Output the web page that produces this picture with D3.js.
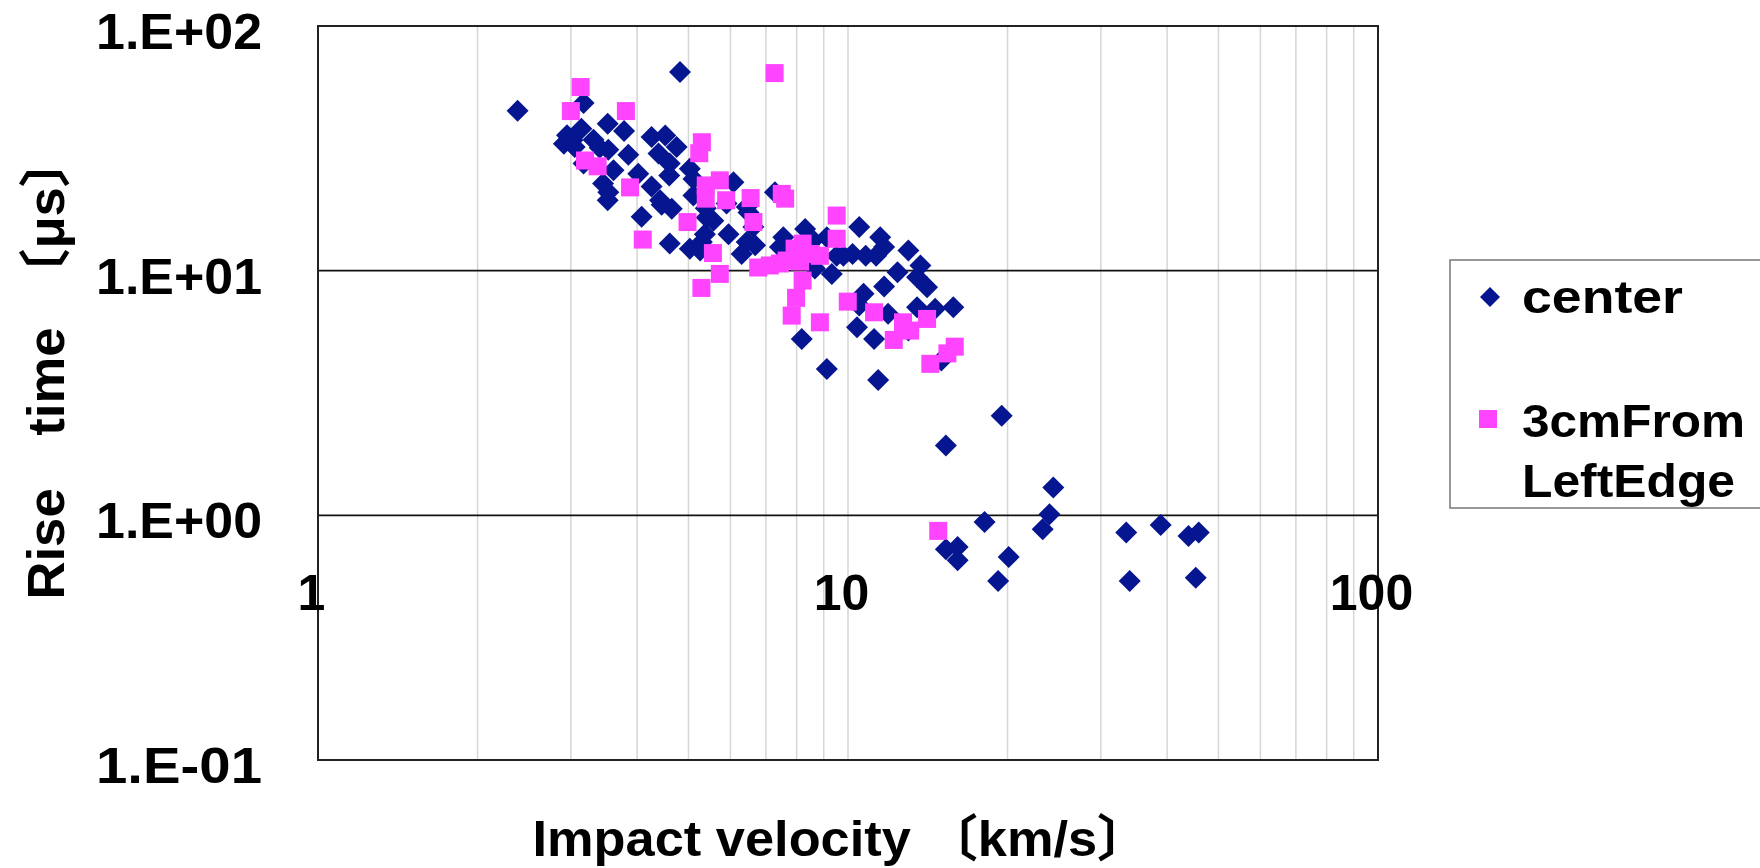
<!DOCTYPE html>
<html>
<head>
<meta charset="utf-8">
<script src="https://cdn.jsdelivr.net/npm/d3@7"></script>
<style>
  html, body { margin: 0; padding: 0; background: #fff; }
  svg { display: block; }
  text { font-family: "Liberation Sans", "Noto Sans CJK JP", sans-serif; font-weight: 700; fill: #000; }
</style>
</head>
<body>
<svg id="chart"></svg>
<script>
// rise time vs impact velocity, two sensor positions
const centerVelocity = [
  2.38, 4.82, 3.17, 3.52, 3.78, 3.14, 3.02, 3.31, 3.05, 3.40,
  3.17, 3.53, 3.85, 3.61, 3.45, 3.53, 3.52, 4.02, 4.26, 4.08,
  4.26, 4.52, 4.75, 4.39, 4.61, 4.60, 4.42, 4.65, 4.45, 5.03,
  5.11, 5.11, 5.41, 5.57, 6.08, 5.90, 5.95, 6.44, 6.44, 6.30,
  4.61, 5.03, 5.30, 5.37, 5.26, 6.63, 7.28, 7.55, 7.44, 8.30,
  8.60, 9.12, 10.5, 11.5, 11.7, 9.52, 10.2, 10.8, 11.3, 9.80,
  9.32, 8.66, 13.0, 12.4, 13.7, 13.5, 14.1, 11.7, 10.7, 10.5,
  10.4, 11.2, 11.9, 13.5, 14.6, 8.18, 6.68, 6.49, 15.8, 13.0,
  15.0, 9.12, 11.4, 19.5, 15.3, 24.4, 24.0, 23.3, 18.1, 15.3,
  16.1, 16.1, 20.1, 19.2, 33.5, 34.0, 38.9, 43.9, 45.9, 45.3,
  2.91, 2.95, 5.39
];
const centerRise = [
  45.0, 64.8, 48.4, 39.9, 37.2, 38.0, 34.1, 34.3, 32.0, 31.8,
  27.4, 31.2, 29.8, 25.7, 22.7, 20.9, 19.4, 24.9, 22.1, 16.6,
  35.2, 35.7, 32.0, 30.1, 27.4, 24.5, 19.4, 17.9, 18.6, 26.1,
  23.7, 20.3, 16.5, 16.0, 23.0, 18.8, 14.1, 18.2, 13.1, 11.7,
  12.9, 12.3, 13.1, 14.1, 12.1, 15.1, 20.9, 13.7, 12.5, 14.8,
  13.3, 13.7, 15.1, 13.7, 12.5, 11.5, 11.7, 11.5, 11.5, 11.5,
  9.70, 10.2, 12.1, 9.85, 10.5, 9.40, 8.55, 8.61, 8.04, 7.20,
  5.87, 5.26, 6.66, 7.08, 6.98, 5.26, 12.7, 17.3, 7.08, 5.69,
  4.29, 3.96, 3.57, 2.55, 1.93, 1.30, 1.01, 0.878, 0.94, 0.727,
  0.743, 0.656, 0.676, 0.539, 0.850, 0.539, 0.912, 0.824, 0.850, 0.556,
  33.0, 35.8, 18.0
];
const edgeVelocity = [
  3.13, 3.00, 3.81, 3.19, 3.37, 3.88, 4.10, 5.30, 5.24, 5.39,
  5.39, 5.73, 5.89, 6.55, 4.98, 5.56, 5.73, 6.63, 6.77, 5.29,
  7.27, 7.50, 7.61, 9.52, 9.52, 8.21, 8.51, 8.85, 7.44, 7.66,
  8.12, 8.21, 7.98, 7.83, 8.85, 9.99, 11.2, 12.7, 13.1, 14.1,
  12.2, 15.9, 15.4, 14.3, 14.8, 7.93, 7.12
];
const edgeRise = [
  56.3, 44.9, 44.9, 28.2, 26.7, 21.9, 13.4, 33.5, 30.2, 22.3,
  19.7, 23.4, 19.4, 19.8, 15.8, 11.8, 9.70, 15.8, 10.3, 8.5,
  64.2, 20.6, 19.7, 16.8, 13.5, 12.9, 11.7, 11.5, 10.7, 11.0,
  10.9, 9.11, 7.74, 6.55, 6.15, 7.47, 6.76, 6.15, 5.69, 6.35,
  5.21, 4.89, 4.59, 4.16, 0.864, 12.3, 10.5
];

const xTicks = [1, 10, 100];
const xTickLabels = ['1', '10', '100'];
const yTicks = [0.1, 1, 10, 100];
const yTickLabels = ['1.E-01', '1.E+00', '1.E+01', '1.E+02'];
const xMinorGrid = [2, 3, 4, 5, 6, 7, 8, 9, 10, 20, 30, 40, 50, 60, 70, 80, 90];
const yMajorGrid = [1, 10];
const seriesNames = ['center', '3cmFrom', 'LeftEdge'];

const width = 1760;
const height = 868;
const margin = { top: 26, right: 382, bottom: 108, left: 318 };
const innerW = width - margin.left - margin.right;
const innerH = height - margin.top - margin.bottom;

const navy = '#061590';
const pink = '#ff44ff';

const svg = d3.select('#chart').attr('width', width).attr('height', height);

const x = d3.scaleLog().domain([1, 100]).range([0, innerW]);
const y = d3.scaleLog().domain([0.1, 100]).range([innerH, 0]);

const g = svg.append('g').attr('transform', `translate(${margin.left},${margin.top})`);

// light vertical grid
g.append('g')
  .selectAll('line')
  .data(xMinorGrid)
  .enter()
  .append('line')
  .attr('x1', (d) => x(d))
  .attr('x2', (d) => x(d))
  .attr('y1', 0)
  .attr('y2', innerH)
  .attr('stroke', '#d6d6d6')
  .attr('stroke-width', 1.5);

// dark horizontal grid
g.append('g')
  .selectAll('line')
  .data(yMajorGrid)
  .enter()
  .append('line')
  .attr('x1', 0)
  .attr('x2', innerW)
  .attr('y1', (d) => y(d))
  .attr('y2', (d) => y(d))
  .attr('stroke', '#111')
  .attr('stroke-width', 1.6);

// plot frame
g.append('rect')
  .attr('x', 0)
  .attr('y', 0)
  .attr('width', innerW)
  .attr('height', innerH)
  .attr('fill', 'none')
  .attr('stroke', '#222')
  .attr('stroke-width', 2);

// y axis labels
const yAxis = g.append('g')
  .call(d3.axisLeft(y).tickValues(yTicks).tickFormat((d, i) => yTickLabels[i]).tickSize(0).tickPadding(56));
yAxis.select('.domain').remove();
yAxis.selectAll('text')
  .style('font-size', '50px')
  .style('font-family', '"Liberation Sans Narrow", "Liberation Sans", sans-serif')
  .style('font-weight', 700)
  .attr('fill', '#000')
  .attr('dy', '0.45em')
  .attr('textLength', 166)
  .attr('lengthAdjust', 'spacingAndGlyphs');

// x axis labels, crossing at 1.E+00
const xAxis = g.append('g')
  .attr('transform', `translate(-7,${y(1)})`)
  .call(d3.axisBottom(x).tickValues(xTicks).tickFormat((d, i) => xTickLabels[i]).tickSize(0).tickPadding(59));
xAxis.select('.domain').remove();
xAxis.selectAll('text')
  .style('font-size', '50px')
  .style('font-family', '"Liberation Sans Narrow", "Liberation Sans", sans-serif')
  .style('font-weight', 700)
  .attr('fill', '#000')
  .attr('dy', '0.71em');

// center series: diamonds
const diamond = d3.symbol().type(d3.symbolSquare).size(242);
g.append('g')
  .selectAll('path')
  .data(centerVelocity.map((v, i) => [v, centerRise[i]]))
  .enter()
  .append('path')
  .attr('d', diamond)
  .attr('transform', (d) => `translate(${x(d[0])},${y(d[1])}) rotate(45)`)
  .attr('fill', navy);

// 3cm from left edge series: squares
g.append('g')
  .selectAll('rect')
  .data(edgeVelocity.map((v, i) => [v, edgeRise[i]]))
  .enter()
  .append('rect')
  .attr('x', (d) => x(d[0]) - 9)
  .attr('y', (d) => y(d[1]) - 9)
  .attr('width', 18)
  .attr('height', 18)
  .attr('fill', pink);

// axis titles
svg.append('text')
  .attr('transform', 'translate(64,367) rotate(-90)')
  .attr('text-anchor', 'middle')
  .attr('textLength', 465)
  .attr('lengthAdjust', 'spacingAndGlyphs')
  .style('font-size', '52px')
  .text('Rise　time　〔μs〕');

svg.append('text')
  .attr('x', 841)
  .attr('y', 856)
  .attr('text-anchor', 'middle')
  .attr('textLength', 617)
  .attr('lengthAdjust', 'spacingAndGlyphs')
  .style('font-size', '50px')
  .text('Impact velocity 〔km/s〕');

// legend
const legend = svg.append('g');
legend.append('rect')
  .attr('x', 1450)
  .attr('y', 260)
  .attr('width', 340)
  .attr('height', 248)
  .attr('fill', '#fff')
  .attr('stroke', '#777')
  .attr('stroke-width', 1.5);

legend.append('path')
  .attr('d', d3.symbol().type(d3.symbolSquare).size(200))
  .attr('transform', 'translate(1490,297) rotate(45)')
  .attr('fill', navy);

legend.append('rect')
  .attr('x', 1479)
  .attr('y', 410)
  .attr('width', 18)
  .attr('height', 18)
  .attr('fill', pink);

const legendRows = [
  { text: seriesNames[0], y: 313, len: 161 },
  { text: seriesNames[1], y: 437, len: 223 },
  { text: seriesNames[2], y: 497, len: 213 }
];
legend.selectAll('text.item')
  .data(legendRows)
  .enter()
  .append('text')
  .attr('class', 'item')
  .attr('x', 1522)
  .attr('y', (d) => d.y)
  .attr('textLength', (d) => d.len)
  .attr('lengthAdjust', 'spacingAndGlyphs')
  .style('font-size', '47px')
  .text((d) => d.text);
</script>
</body>
</html>
